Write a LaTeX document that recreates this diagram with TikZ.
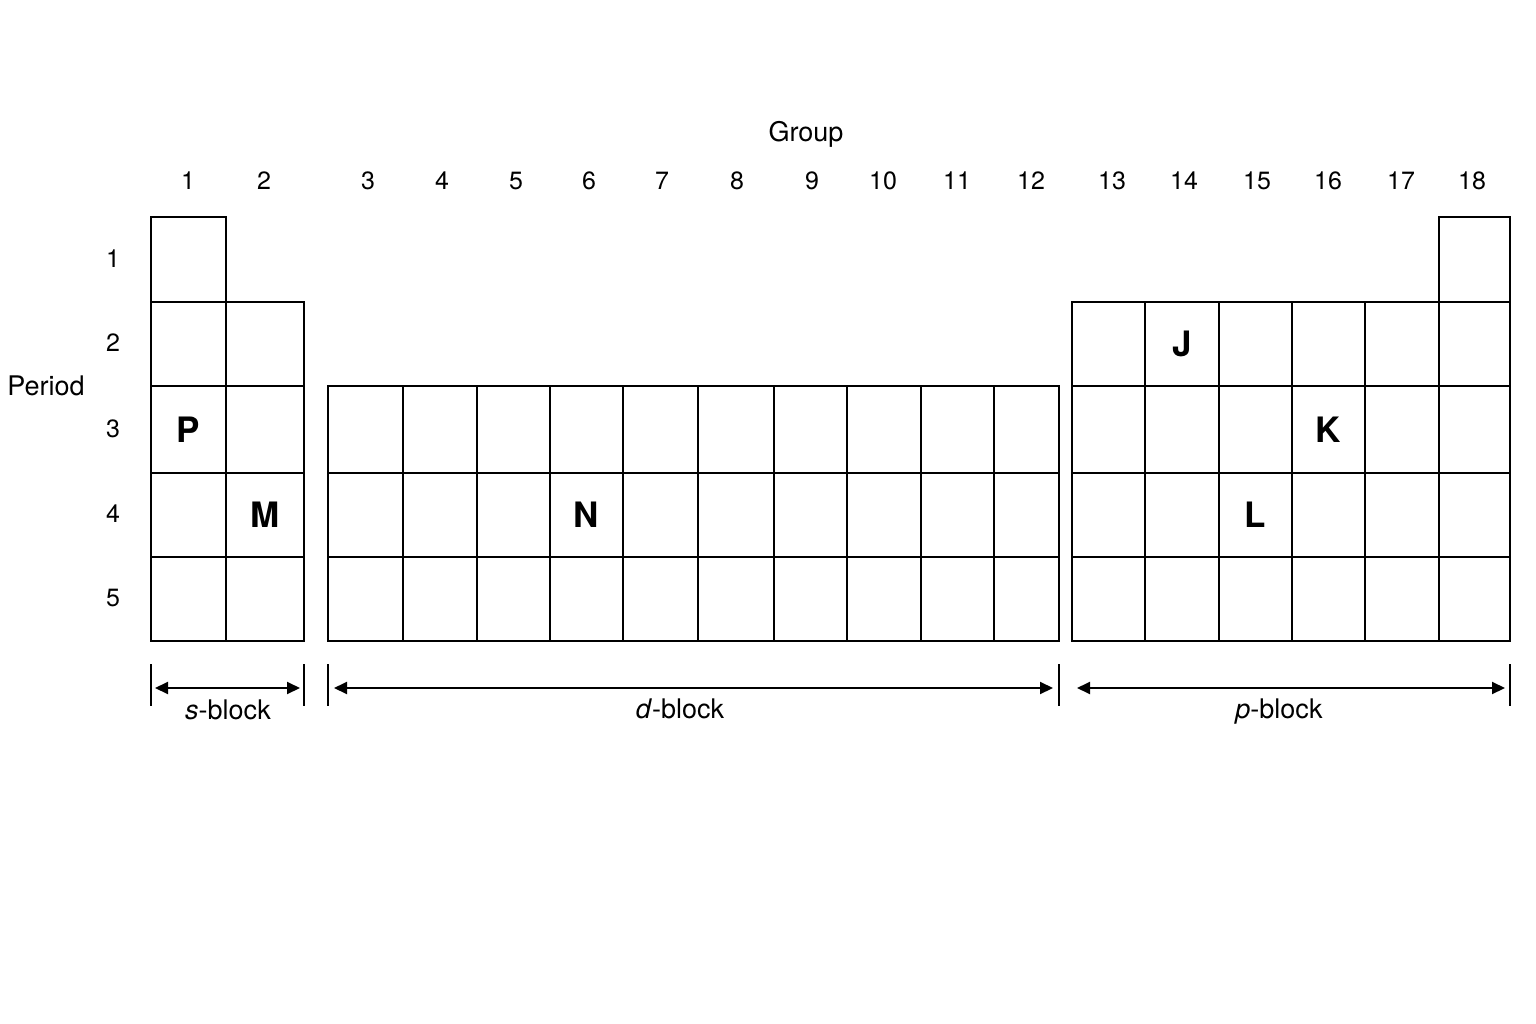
\documentclass[tikz,border=0pt]{standalone}
\usepackage{fontspec}
\setmainfont{TeX Gyre Heros}
\usetikzlibrary{arrows.meta,positioning,calc}

\tikzset{
  cell/.style={draw=black, line width=2pt},
  lbl/.style={inner sep=0pt, font=\fontsize{25}{30}\selectfont},
  word/.style={inner sep=0pt, font=\fontsize{27}{32}\selectfont},
  elem/.style={inner sep=0pt, font=\fontsize{35}{40}\selectfont\bfseries},
  blockedge/.style={line width=2pt},
  span/.style={line width=2pt, {Triangle[length=13pt,width=12pt]}-{Triangle[length=13pt,width=12pt]}},
}

\begin{document}
\begin{tikzpicture}[x=1pt,y=-1pt]
    \useasboundingbox (0,0) rectangle (1536,1024);
    % s-block
    \foreach \ya/\yb in {217/302,302/386,386/473,473/557,557/641}
        \draw[cell] (151,\ya) rectangle (226,\yb);
    \foreach \ya/\yb in {302/386,386/473,473/557,557/641}
        \draw[cell] (226,\ya) rectangle (304,\yb);
    % d-block
    \foreach \xa/\xb in {328/403,403/477,477/550,550/623,623/698,698/774,774/847,847/921,921/994,994/1059}
        \foreach \ya/\yb in {386/473,473/557,557/641}
            \draw[cell] (\xa,\ya) rectangle (\xb,\yb);
    % p-block
    \foreach \xa/\xb in {1072/1145,1145/1219,1219/1292,1292/1365,1365/1439,1439/1510}
        \foreach \ya/\yb in {302/386,386/473,473/557,557/641}
            \draw[cell] (\xa,\ya) rectangle (\xb,\yb);
    \draw[cell] (1439,217) rectangle (1510,302);

    \node[word] (group) at (806,134) {Group};
    \node[word] (period) at (46,386) {Period};
    \foreach \g/\x in {1/188,2/264,3/368,4/442,5/516,6/589,7/662,8/737,9/812,10/883,11/957,12/1031,13/1112,14/1184,15/1257,16/1328,17/1401,18/1472}
        \node[lbl] (g\g) at (\x,181) {\g};
    \foreach \p/\y in {1/259,2/343,3/429,4/514,5/598}
        \node[lbl] (p\p) at (113,\y) {\p};

    \foreach \e/\x/\y in {P/188.5/429.5,M/265/515,N/586.5/515,J/1182/344,K/1328.5/430,L/1255.5/515}
        \node[elem] (\e) at (\x,\y) {\e};

    % block ranges
    \foreach \n/\x in {sl/151,sr/304,dl/328,dr/1059,pr/1510} {
        \coordinate (\n) at (\x,688);
        \draw[blockedge] ($(\n)+(0,-24)$) -- ($(\n)+(0,18)$);
    }
    \draw[span, shorten <=4pt, shorten >=4pt] (sl) -- (sr);
    \draw[span, shorten <=6pt, shorten >=6pt] (dl) -- (dr);
    \draw[span, shorten <=18pt, shorten >=5pt] (dr) -- (pr);
    \node[word] (sblock) at (228,710) {\textit{s}-block};
    \node[word] (dblock) at (680,709) {\textit{d}-block};
    \node[word] (pblock) at (1279,712) {\textit{p}-block};
\end{tikzpicture}
\end{document}
